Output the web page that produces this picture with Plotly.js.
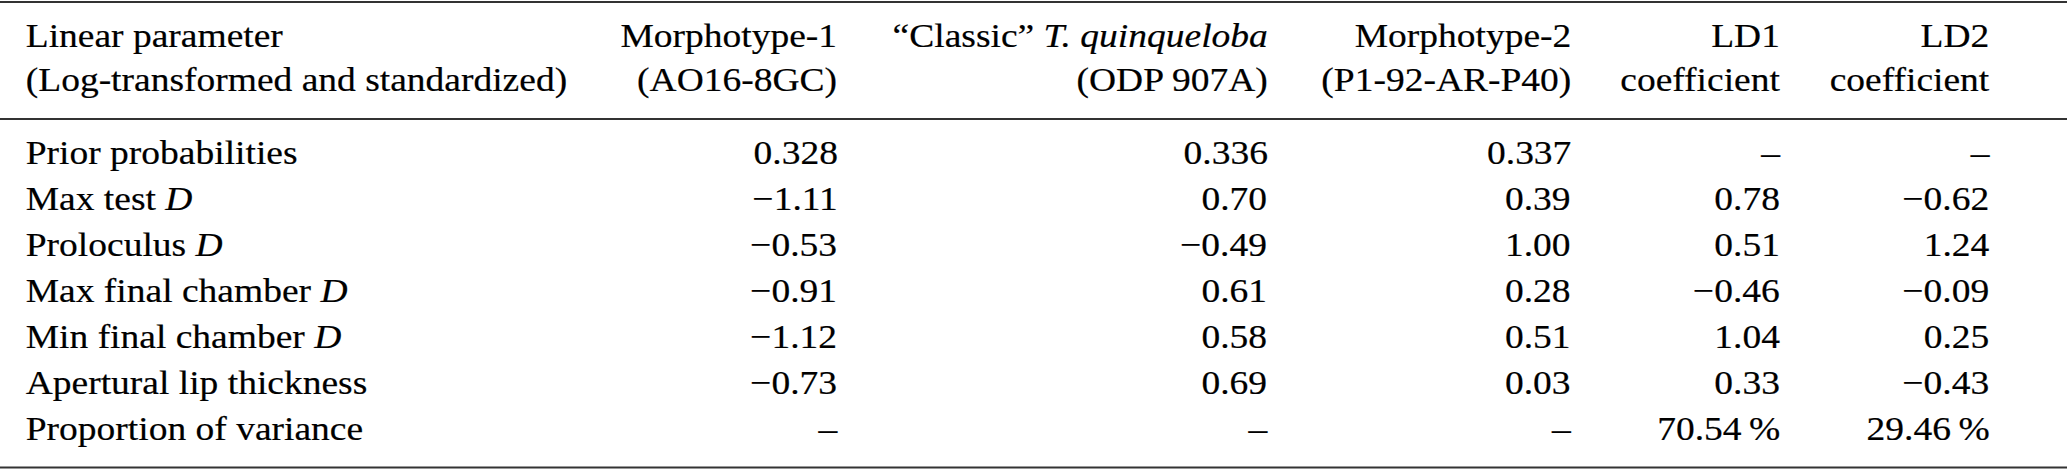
<!DOCTYPE html>
<html>
<head>
<meta charset="utf-8">
<script src="https://cdn.plot.ly/plotly-3.0.1.min.js"></script>
<style>
  html, body { margin: 0; padding: 0; background: #fff; overflow: hidden; }
  #wrap { width: 2067px; height: 470px; overflow: hidden; }
  #chart { width: 1846px; height: 470px; transform: scaleX(1.11972); transform-origin: 0 0; }
  #chart .annotation-text { stroke: #000; stroke-width: 0.2px; }
</style>
</head>
<body>
<div id="wrap"><div id="chart"></div></div>
<script>
// ---- data ----
const headerLabel = "Linear parameter<br>(Log-transformed and standardized)";
const columnHeaders = [
  "Morphotype-1<br>(AO16-8GC)",
  "\u201CClassic\u201D <i>T. quinqueloba</i><br>(ODP 907A)",
  "Morphotype-2<br>(P1-92-AR-P40)",
  "LD1<br>coefficient",
  "LD2<br>coefficient"
];
const rowLabels = [
  "Prior probabilities",
  "Max test <i>D</i>",
  "Proloculus <i>D</i>",
  "Max final chamber <i>D</i>",
  "Min final chamber <i>D</i>",
  "Apertural lip thickness",
  "Proportion of variance"
];
const morphotype1 = [0.328, -1.11, -0.53, -0.91, -1.12, -0.73, null];
const classicTq   = [0.336,  0.70, -0.49,  0.61,  0.58,  0.69, null];
const morphotype2 = [0.337,  0.39,  1.00,  0.28,  0.51,  0.03, null];
const ld1Coef     = [null,   0.78,  0.51, -0.46,  1.04,  0.33, 70.54];
const ld2Coef     = [null,  -0.62,  1.24, -0.09,  0.25, -0.43, 29.46];
const columns = [morphotype1, classicTq, morphotype2, ld1Coef, ld2Coef];

// ---- formatting ----
function fmt(v, row) {
  if (v === null) return "\u2013";
  let s;
  if (row === 0) s = Math.abs(v).toFixed(3);
  else s = Math.abs(v).toFixed(2);
  if (row === rowLabels.length - 1) s += "\u2009%";
  return (v < 0 ? "\u2212" : "") + s;
}

// ---- layout constants (reference pixel units on x; row units on y) ----
const colRight = [838, 1268, 1571, 1780, 1990];
const labelLeft = 26;
const rowTop = 152, rowStep = 46, H = 470;
const yOf = px => (px - rowTop) / rowStep;
const font = { family: "Liberation Serif", size: 33.5, color: "#000" };

const ann = [];
function add(text, x, y, anchor) {
  ann.push({ text: text, x: x, y: y, xref: "x", yref: "y", xanchor: anchor, yanchor: "middle",
             align: anchor, showarrow: false, font: font, borderpad: 0, borderwidth: 0 });
}
const headerY = yOf(57.5);
add(headerLabel, labelLeft, headerY, "left");
columnHeaders.forEach((h, j) => add(h, colRight[j], headerY, "right"));
rowLabels.forEach((lab, i) => {
  add(lab, labelLeft, i, "left");
  columns.forEach((col, j) => add(fmt(col[i], i), colRight[j], i, "right"));
});

function rule(py, w) {
  return { type: "line", xref: "paper", yref: "y", x0: 0, x1: 1, y0: yOf(py), y1: yOf(py),
           line: { color: "#333", width: w } };
}

const layout = {
  width: 1846, height: H,
  margin: { l: 0, r: 0, t: 0, b: 0, pad: 0 },
  paper_bgcolor: "#fff", plot_bgcolor: "#fff",
  showlegend: false,
  xaxis: { range: [0, 2067], visible: false, fixedrange: true },
  yaxis: { range: [yOf(H), yOf(0)], visible: false, fixedrange: true },
  annotations: ann,
  shapes: [rule(2, 2.2), rule(119, 2), rule(467.5, 2.2)]
};

Plotly.newPlot("chart", [{ x: [], y: [], type: "scatter", mode: "markers", hoverinfo: "skip" }],
               layout, { staticPlot: true, displayModeBar: false });
</script>
</body>
</html>
